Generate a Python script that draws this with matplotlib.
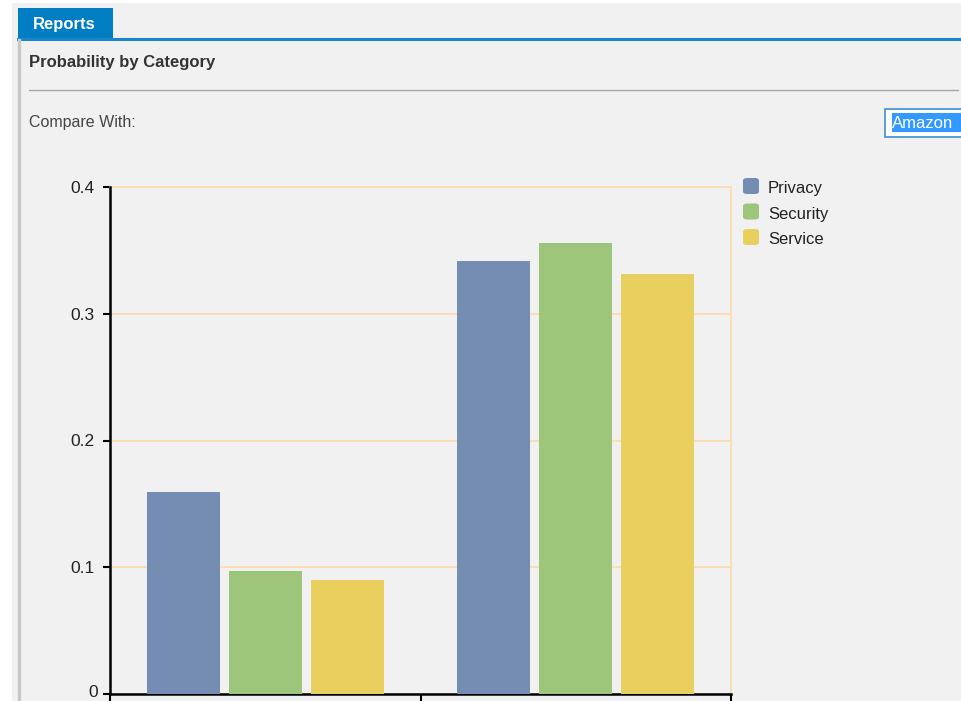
import matplotlib.pyplot as plt
from matplotlib.patches import Rectangle, FancyBboxPatch
import numpy as np

plt.rcParams['font.family'] = ['Liberation Sans', 'DejaVu Sans']

# data
categories = ['Group A', 'Group B']
series = ['Privacy', 'Security', 'Service']
privacy = [0.159, 0.342]
security = [0.097, 0.356]
service = [0.090, 0.331]
colors = ['#758db2', '#9dc67a', '#e8cf5e']
yticks = [0, 0.1, 0.2, 0.3, 0.4]
ylabels = ['0', '0.1', '0.2', '0.3', '0.4']

W, H = 961, 701
fig = plt.figure(figsize=(W / 100, H / 100), dpi=100)
fig.patch.set_facecolor('white')


def px(x, y, w, h):
    # pixel box (top-left origin) -> figure fraction
    return [x / W, 1 - (y + h) / H, w / W, h / H]


# page chrome
fig.patches.append(Rectangle((12 / W, 0), 1, 1 - 3 / H, transform=fig.transFigure,
                             facecolor='#f1f1f1', edgecolor='none', zorder=0))
fig.patches.append(Rectangle((18 / W, 1 - 39 / H), 95 / W, 31 / H,
                             transform=fig.transFigure, facecolor='#007dc3',
                             edgecolor='none', zorder=1))
fig.lines.append(plt.Line2D([18 / W, 1], [1 - 39 / H] * 2, transform=fig.transFigure,
                            color='#1a86cc', lw=2.2, zorder=2))
fig.lines.append(plt.Line2D([19 / W] * 2, [0, 1 - 40 / H], transform=fig.transFigure,
                            color='#c8c8c8', lw=2.5, zorder=2))
fig.lines.append(plt.Line2D([29 / W, 958 / W], [1 - 90 / H] * 2, transform=fig.transFigure,
                            color='#a8a8a8', lw=1.0, zorder=2))
fig.text(33 / W, 1 - 24 / H, 'Reports', color='white', fontsize=12, fontweight='bold',
         va='center', ha='left')
fig.text(29 / W, 1 - 62 / H, 'Probability by Category', color='#333333', fontsize=12,
         fontweight='bold', va='center', ha='left')
fig.text(29 / W, 1 - 122 / H, 'Compare With:', color='#444444', fontsize=11.5,
         va='center', ha='left')
fig.patches.append(Rectangle((885 / W, 1 - 137 / H), 80 / W, 28 / H, transform=fig.transFigure,
                             facecolor='white', edgecolor='#3d8fd6', lw=1.2, zorder=1))
fig.patches.append(Rectangle((892 / W, 1 - 132 / H), 70 / W, 19 / H, transform=fig.transFigure,
                             facecolor='#3399ff', edgecolor='none', zorder=2))
fig.text(892 / W, 1 - 123 / H, 'Amazon', color='white', fontsize=12, va='center',
         ha='left', zorder=3)

# chart
ax = fig.add_axes(px(110, 187, 621, 507))
ax.set_zorder(5)
ax.set_facecolor('#f1f1f1')
x = np.arange(len(categories))
step = 0.264
bw = 0.235
for i, (vals, c) in enumerate(zip([privacy, security, service], colors)):
    ax.bar(x + (i - 1) * step, vals, width=bw, color=c, zorder=3, label=series[i])

ax.set_xlim(-0.5, len(categories) - 0.5)
ax.set_ylim(0, 0.4)
ax.set_yticks(yticks)
# the bottom "0" sits on the canvas edge, so it is drawn separately a bit higher
ax.set_yticklabels([''] + ylabels[1:], fontsize=12.5, color='#222222',
                   va='center_baseline')
fig.text(98 / W, 1 - 697 / H, ylabels[0], fontsize=12.5, color='#222222',
         ha='right', va='baseline')
ax.set_xticks([-0.5, 0.5, 1.5])
ax.set_xticklabels([])
ax.tick_params(axis='y', length=5, width=1.5, color='black', pad=6)
ax.tick_params(axis='x', length=12, width=1.5, color='black')
ax.grid(axis='y', color='#fcdcb4', lw=1.4, zorder=1)
for s in ['top', 'right']:
    ax.spines[s].set_color('#fcdcb4')
    ax.spines[s].set_linewidth(1.4)
ax.spines['left'].set_linewidth(1.8)
ax.spines['bottom'].set_linewidth(1.8)
ax.spines['left'].set_zorder(4)

# legend
for i, (name, c) in enumerate(zip(series, colors)):
    y0 = 178 + i * 25.5
    fig.patches.append(FancyBboxPatch((743 / W, 1 - (y0 + 16) / H), 16 / W, 16 / H,
                                      boxstyle='round,pad=0,rounding_size=0.004',
                                      transform=fig.transFigure, facecolor=c,
                                      edgecolor='none', zorder=3))
    fig.text(768 / W, 1 - (y0 + 11) / H, name, fontsize=12, color='#222222',
             va='center', ha='left')

fig.savefig('out.png', dpi=100, facecolor=fig.get_facecolor())
